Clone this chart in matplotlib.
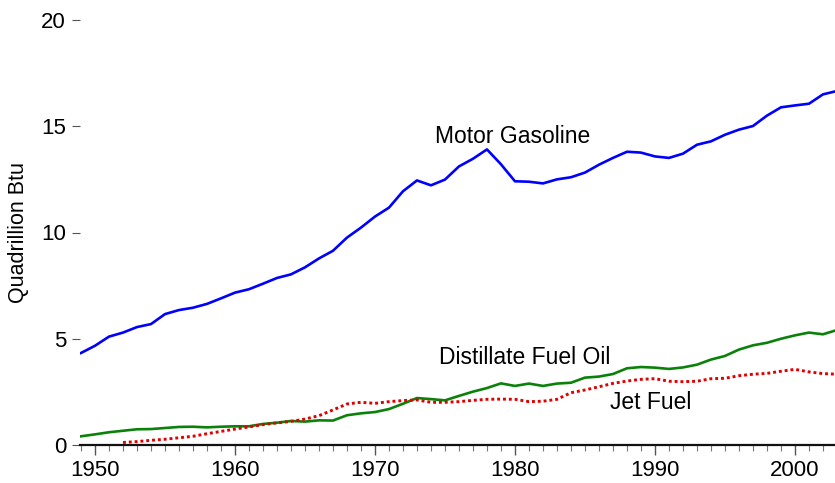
import matplotlib
matplotlib.use("Agg")
import matplotlib.pyplot as plt
from matplotlib.ticker import MultipleLocator

plt.rcParams['font.family'] = ['Liberation Sans', 'DejaVu Sans']

years = list(range(1949, 2004))
motor_gasoline = [4.33, 4.67, 5.10, 5.29, 5.55, 5.69, 6.16, 6.35, 6.46, 6.64,
                  6.90, 7.17, 7.33, 7.59, 7.86, 8.03, 8.36, 8.78, 9.14, 9.76,
                  10.23, 10.75, 11.17, 11.94, 12.45, 12.22, 12.49, 13.11, 13.47, 13.91,
                  13.21, 12.41, 12.39, 12.31, 12.50, 12.60, 12.82, 13.19, 13.51, 13.80,
                  13.76, 13.58, 13.51, 13.71, 14.13, 14.29, 14.60, 14.84, 15.01, 15.50,
                  15.89, 15.98, 16.06, 16.50, 16.66]
distillate = [0.41, 0.50, 0.60, 0.67, 0.74, 0.75, 0.80, 0.85, 0.86, 0.83,
              0.86, 0.88, 0.88, 0.99, 1.05, 1.13, 1.10, 1.16, 1.15, 1.40,
              1.49, 1.55, 1.69, 1.94, 2.21, 2.16, 2.10, 2.31, 2.51, 2.68,
              2.90, 2.78, 2.89, 2.78, 2.89, 2.93, 3.17, 3.22, 3.34, 3.61,
              3.67, 3.64, 3.58, 3.65, 3.78, 4.02, 4.19, 4.49, 4.69, 4.81,
              5.00, 5.16, 5.29, 5.21, 5.41]
jet_years = list(range(1952, 2004))
jet_fuel = [0.12, 0.16, 0.22, 0.27, 0.34, 0.41, 0.53, 0.64, 0.75, 0.85,
            0.96, 1.04, 1.11, 1.22, 1.38, 1.65, 1.93, 2.01, 1.96, 2.04,
            2.09, 2.12, 2.01, 2.01, 2.04, 2.10, 2.15, 2.16, 2.15, 2.04,
            2.06, 2.15, 2.46, 2.59, 2.74, 2.90, 3.01, 3.09, 3.12, 3.00,
            2.98, 3.00, 3.12, 3.14, 3.26, 3.33, 3.37, 3.47, 3.56, 3.44,
            3.36, 3.33]

fig = plt.figure(figsize=(8.35, 4.83), dpi=100)
ax = fig.add_axes([80/835, 38/483, 755/835, 425/483])

ax.plot(years, motor_gasoline, color='#0000ff', lw=1.9, solid_joinstyle='round')
ax.plot(years, distillate, color='#0a820a', lw=1.9, solid_joinstyle='round')
ax.plot(jet_years, jet_fuel, color='#e00000', lw=2.1, linestyle=(0, (1, 1)))

ax.set_xlim(1948.93, 2002.86)
ax.set_ylim(0, 20)

for s in ['top', 'right', 'left']:
    ax.spines[s].set_visible(False)
ax.spines['bottom'].set_linewidth(1.6)
ax.spines['bottom'].set_color('#111111')

ax.xaxis.set_major_locator(MultipleLocator(10))
ax.xaxis.set_minor_locator(MultipleLocator(1))
ax.yaxis.set_major_locator(MultipleLocator(5))
ax.tick_params(axis='x', which='major', length=7, width=1.0, color='#555555',
               labelsize=16, pad=4)
ax.tick_params(axis='x', which='minor', length=4, width=0.8, color='#777777')
ax.tick_params(axis='y', which='major', length=6, width=0.8, color='#555555',
               labelsize=16, pad=4)
ax.set_ylabel('Quadrillion Btu', fontsize=15.5, labelpad=9)

ax.text(1979.8, 14.5, 'Motor Gasoline', fontsize=16.5, ha='center', va='center')
ax.text(1980.7, 4.1, 'Distillate Fuel Oil', fontsize=16.5, ha='center', va='center')
ax.text(1989.7, 1.98, 'Jet Fuel', fontsize=16.5, ha='center', va='center')

fig.savefig('out.png', dpi=100)
